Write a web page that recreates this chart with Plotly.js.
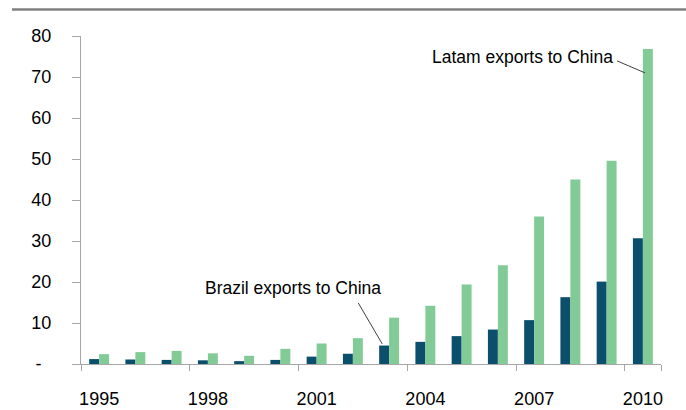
<!DOCTYPE html>
<html>
<head>
<meta charset="utf-8">
<script src="https://cdn.plot.ly/plotly-3.0.1.min.js"></script>
<style>html,body{margin:0;padding:0;background:#fff;}#chart{width:686px;height:410px;}</style>
</head>
<body>
<div id="chart"></div>
<script>
// ---- data (USD bn) ----
const years = ['1995','1996','1997','1998','1999','2000','2001','2002','2003','2004','2005','2006','2007','2008','2009','2010'];
const brazil = [1.2, 1.1, 1.0, 0.9, 0.7, 1.0, 1.8, 2.5, 4.5, 5.4, 6.8, 8.4, 10.7, 16.3, 20.1, 30.7];
const latam  = [2.4, 2.9, 3.2, 2.6, 2.0, 3.7, 5.0, 6.3, 11.3, 14.2, 19.4, 24.1, 36.0, 45.0, 49.6, 76.8];
const xTickLabels = ['1995','1998','2001','2004','2007','2010'];
const yTickVals = [0,10,20,30,40,50,60,70,80];
const yTickText = ['-\u00a0\u00a0','10','20','30','40','50','60','70','80'];
const brazilLabel = 'Brazil exports to China';
const latamLabel = 'Latam exports to China';

const FONT = '"Liberation Sans", Arial, sans-serif';

const iB = years.indexOf('2003');
const iL = years.indexOf('2010');

const traces = [
  {type:'bar', x: years, y: brazil, name: brazilLabel, marker:{color:'#0B4F6C'}},
  {type:'bar', x: years, y: latam, name: latamLabel, marker:{color:'#82CB96'}}
];

const layout = {
  width: 686, height: 410,
  margin: {l:81, r:25, t:36, b:46},
  paper_bgcolor:'#ffffff', plot_bgcolor:'#ffffff',
  showlegend:false,
  barmode:'group', bargap:0.45, bargroupgap:0,
  font:{family: FONT, color:'#000'},
  xaxis:{
    type:'category', range:[-0.5, years.length-0.5],
    tickmode:'array', tickvals: xTickLabels, ticktext: xTickLabels,
    tickson:'boundaries', ticks:'outside', ticklen:6, tickcolor:'#a6a6a6', tickwidth:1,
    tickangle:0,
    showline:true, linecolor:'#a6a6a6', linewidth:1,
    showgrid:false, zeroline:false,
    tickfont:{family: FONT, size:18, color:'#000'},
    ticklabelstandoff: 18
  },
  yaxis:{
    range:[0,80], tickmode:'array', tickvals: yTickVals, ticktext: yTickText,
    ticks:'outside', ticklen:8, tickcolor:'#a6a6a6', tickwidth:1,
    showline:true, linecolor:'#a6a6a6', linewidth:1,
    showgrid:false, zeroline:false,
    tickfont:{family: FONT, size:18, color:'#000'},
    ticklabelstandoff: 17
  },
  shapes:[
    {type:'line', xref:'paper', yref:'paper', x0:-0.119, x1:1.05, y0:1.081, y1:1.081,
     line:{color:'#808080', width:2.5}},
    {type:'line', xref:'x', yref:'y', xsizemode:'pixel', ysizemode:'pixel',
     xanchor: iB - 0.19, yanchor: brazil[iB] + 0.4, x0:-24, y0:41, x1:0, y1:0,
     line:{color:'#404040', width:1}},
    {type:'line', xref:'x', yref:'y', xsizemode:'pixel', ysizemode:'pixel',
     xanchor: iL + 0.06, yanchor: latam[iL] - 5.8, x0:-28, y0:12, x1:0, y1:0,
     line:{color:'#404040', width:1}}
  ],
  annotations:[
    {xref:'x', yref:'y', x: iB - 0.19, y: brazil[iB] + 0.4, xshift:-89, yshift:56,
     text: brazilLabel, showarrow:false, font:{family: FONT, size:17.5, color:'#000'}},
    {xref:'x', yref:'y', x: iL + 0.06, y: latam[iL] - 5.8, xshift:-123, yshift:16,
     text: latamLabel, showarrow:false, font:{family: FONT, size:17.5, color:'#000'}}
  ]
};

Plotly.newPlot('chart', traces, layout, {staticPlot:true, displayModeBar:false});
</script>
</body>
</html>
